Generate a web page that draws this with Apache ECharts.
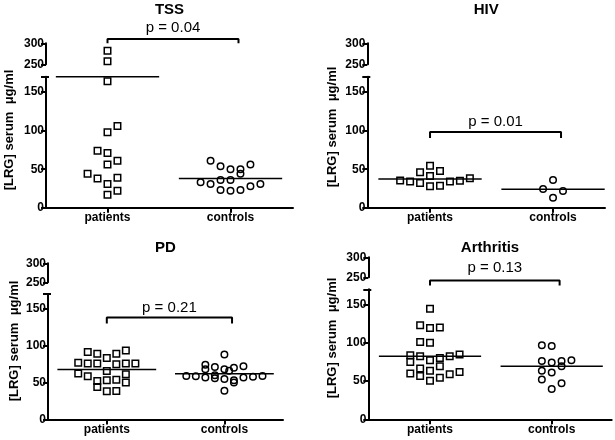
<!DOCTYPE html>
<html>
<head>
<meta charset="utf-8">
<script src="https://cdn.jsdelivr.net/npm/echarts@6/dist/echarts.min.js"></script>
<style>html,body{margin:0;padding:0;background:#fff}#c{width:615px;height:440px}</style>
</head>
<body>
<div id="c"></div>
<script>
// ---------- data ----------
const categories = ['patients', 'controls'];
const lowerTicks = [0, 50, 100, 150];
const upperTicks = [250, 300];
const breakLow = 170;

const tssPatients = [282, 257, 164, 106, 98, 74, 71, 61, 56, 44, 38, 39, 31, 22, 17];
const tssPatientsSlot = [0, 0, 0, 1, 0, -1, 0, 1, 0, -2, -1, 1, 0, 1, 0];
const tssControls = [61, 54, 50, 50, 56, 44, 33, 31, 36, 36, 23, 22, 23, 28, 31];
const tssControlsSlot = [-2, -1, 0, 1, 2, 1, -3, -2, -1, 0, -1, 0, 1, 2, 3];
const tssMedians = [170, 38];
const tssP = 'p = 0.04';

const hivPatients = [35.5, 34.2, 32, 54.5, 46, 47.6, 41.3, 27.8, 28.5, 34.2, 35, 38.3];
const hivPatientsSlot = [-3, -2, -1, 0, -1, 1, 0, 0, 1, 2, 3, 4];
const hivControls = [36, 24.4, 21.8, 13];
const hivControlsSlot = [0, -1, 1, 0];
const hivMedians = [37.5, 24];
const hivP = 'p = 0.01';

const pdPatients = [91.4, 89.2, 83.3, 89.2, 93.6, 77, 75.7, 75.7, 74.7, 75.7, 75.7, 65.7, 62.2, 58.5, 61.2, 52.2, 53.1, 54, 50, 44, 38.2, 38.6];
const pdPatientsSlot = [-2, -1, 0, 1, 2, -3, -2, -1, 1, 2, 3, 0, -3, -2, 2, -1, 0, 1, 2, -1, 0, 1];
const pdControls = [88, 74, 71, 68, 70, 72, 68, 66, 59, 58.5, 57, 60, 56, 55, 53, 50, 57, 58, 59, 39];
const pdControlsSlot = [0, -2, -1, 0, 1, 2, -2, 0.5, -4, -3, -2, -1, -1, 0, 1, 1, 2, 3, 4, 0];
const pdMedians = [67.6, 62];
const pdP = 'p = 0.21';

const arPatients = [144.7, 123, 119.5, 120, 101, 100, 83.8, 82.5, 80.3, 82.5, 84.7, 75, 77.3, 69.5, 66.5, 60, 56.5, 63.4, 54.3, 59, 62, 50.4];
const arPatientsSlot = [0, -1, 0, 1, -1, 0, -2, -1, 1, 2, 3, -2, 0, 1, -1, -2, -1, 0, 1, 2, 3, 0];
const arControls = [96.9, 96, 76.4, 74.3, 76.4, 77.3, 69.5, 63.4, 61.3, 52.2, 47, 39.5];
const arControlsSlot = [-1, 0, -1, 0, 1, 2, 1, -1, 0, -1, 1, 0];
const arMedians = [82.5, 69.5];
const arP = 'p = 0.13';

// ---------- layout ----------
const panels = [
  { title: 'TSS', pat: tssPatients, patSlot: tssPatientsSlot, ctl: tssControls, ctlSlot: tssControlsSlot, med: tssMedians, p: tssP,
    left: 46, lowTop: 76.7, lowBottom: 207.8, upTop: 43.3, upBottom: 64.3, width: 247, min: 0.5, u: 123,
    titleY: 10, ytX: 9, ytY: 130, bracket: { grid: 'up', yTop: 310, yTick: 300.3 }, pY: 28 },
  { title: 'HIV', pat: hivPatients, patSlot: hivPatientsSlot, ctl: hivControls, ctlSlot: hivControlsSlot, med: hivMedians, p: hivP,
    left: 367.3, lowTop: 76.7, lowBottom: 207.8, upTop: 43.3, upBottom: 64.3, width: 237.7, min: 0.49, u: 123,
    titleY: 10, ytX: 332, ytY: 127, bracket: { grid: 'low', yTop: 98.4, yTick: 90.6 }, pY: 122 },
  { title: 'PD', pat: pdPatients, patSlot: pdPatientsSlot, ctl: pdControls, ctlSlot: pdControlsSlot, med: pdMedians, p: pdP,
    left: 48, lowTop: 294, lowBottom: 419.5, upTop: 263.3, upBottom: 282.3, width: 235, min: 0.5, u: 117.6,
    titleY: 248, ytX: 14, ytY: 341, bracket: { grid: 'low', yTop: 138, yTick: 130 }, pY: 308 },
  { title: 'Arthritis', pat: arPatients, patSlot: arPatientsSlot, ctl: arControls, ctlSlot: arControlsSlot, med: arMedians, p: arP,
    left: 368.3, lowTop: 289.3, lowBottom: 419.3, upTop: 257.3, upBottom: 277.3, width: 243.4, min: 0.493, u: 121.7,
    titleY: 248, ytX: 332, ytY: 338, bracket: { grid: 'low', yTop: 181.6, yTick: 175 }, pY: 268 }
];

const slotW = 0.081;
const halfW = 0.42;
const bracketExt = 0.065;
const FONT = 'Liberation Sans, Arial, sans-serif';

const grid = [], xAxis = [], yAxis = [], series = [], graphic = [], capAxes = [];

panels.forEach((P, i) => {
  const max = P.min + P.width / P.u;
  const lo = 2 * i, up = 2 * i + 1;
  grid.push({ left: P.left, top: P.lowTop, width: P.width, height: P.lowBottom - P.lowTop });
  grid.push({ left: P.left, top: P.upTop, width: P.width, height: P.upBottom - P.upTop });
  xAxis.push({
    gridIndex: lo, type: 'value', min: P.min, max: max,
    axisLine: { show: true, onZero: false, lineStyle: { color: '#000', width: 2 } },
    axisTick: { show: true, customValues: [1, 2], length: 5, lineStyle: { color: '#000', width: 2 } },
    axisLabel: { show: true, customValues: [1, 2], formatter: v => categories[Math.round(v) - 1], color: '#000',
      fontFamily: FONT, fontWeight: 'bold', fontSize: 12, margin: 4 },
    splitLine: { show: false }
  });
  xAxis.push({ gridIndex: up, type: 'value', min: P.min, max: max, show: false, splitLine: { show: false } });
  const yCommon = {
    type: 'value',
    axisLine: { show: true, onZero: false, lineStyle: { color: '#000', width: 2 } },
    axisLabel: { color: '#000', fontFamily: FONT, fontWeight: 'bold', fontSize: 12, margin: 2 },
    splitLine: { show: false }
  };
  yAxis.push(Object.assign({}, yCommon, {
    gridIndex: lo, min: 0, max: breakLow,
    axisTick: { show: true, customValues: lowerTicks.concat([breakLow]), length: 5, lineStyle: { color: '#000', width: 2 } },
    axisLabel: Object.assign({}, yCommon.axisLabel, { customValues: lowerTicks })
  }));
  yAxis.push(Object.assign({}, yCommon, {
    gridIndex: up, min: upperTicks[0], max: upperTicks[1],
    axisTick: { show: true, customValues: upperTicks, length: 5, lineStyle: { color: '#000', width: 2 } },
    axisLabel: Object.assign({}, yCommon.axisLabel, { customValues: upperTicks })
  }));
  // cap on top of the lower axis segment (inner half)
  capAxes.push({
    gridIndex: lo, type: 'value', min: 0, max: breakLow, position: 'left',
    axisLine: { show: false }, axisLabel: { show: false }, splitLine: { show: false },
    axisTick: { show: true, inside: true, customValues: [breakLow], length: 3, lineStyle: { color: '#000', width: 2 } }
  });

  const groups = [
    { vals: P.pat, slots: P.patSlot, c: 1, sym: 'rect' },
    { vals: P.ctl, slots: P.ctlSlot, c: 2, sym: 'circle' }
  ];
  groups.forEach(g => {
    const low = [], high = [];
    g.vals.forEach((v, k) => {
      const pt = [g.c + g.slots[k] * slotW, v];
      (v > breakLow ? high : low).push(pt);
    });
    const st = {
      type: 'scatter', symbol: g.sym, symbolSize: 6.5,
      itemStyle: { color: 'rgba(255,255,255,0)', borderColor: '#000', borderWidth: 1.5, opacity: 1 },
      emphasis: { disabled: true }, z: 3
    };
    series.push(Object.assign({}, st, { xAxisIndex: lo, yAxisIndex: lo, data: low }));
    if (high.length) series.push(Object.assign({}, st, { xAxisIndex: up, yAxisIndex: up, data: high }));
  });
  P.med.forEach((m, k) => {
    const c = k + 1;
    series.push({
      type: 'line', xAxisIndex: lo, yAxisIndex: lo, symbol: 'none', silent: true, clip: false,
      lineStyle: { color: '#000', width: 1.5 }, data: [[c - halfW, m], [c + halfW, m]], z: 2
    });
  });
  const b = P.bracket;
  const bi = b.grid === 'up' ? up : lo;
  series.push({
    type: 'line', xAxisIndex: bi, yAxisIndex: bi, symbol: 'none', silent: true, clip: false,
    lineStyle: { color: '#000', width: 2 },
    data: [[1, b.yTick], [1, b.yTop], [2 + bracketExt, b.yTop], [2 + bracketExt, b.yTick]]
  });

  const cx = P.left + P.width / 2;
  graphic.push({ type: 'text', x: cx, y: P.titleY, style: { text: P.title, font: 'bold 15px ' + FONT, fill: '#000', align: 'center', verticalAlign: 'middle' } });
  const px = P.left + (1 - P.min) * P.u + ((1 + bracketExt) * P.u) / 2;
  graphic.push({ type: 'text', x: px, y: P.pY, style: { text: P.p, font: '15px ' + FONT, fill: '#000', align: 'center', verticalAlign: 'middle' } });
  graphic.push({ type: 'text', x: P.ytX, y: P.ytY, rotation: Math.PI / 2, style: { text: '[LRG] serum  μg/ml', font: 'bold 13px ' + FONT, fill: '#000', align: 'center', verticalAlign: 'middle' } });
});

const chart = echarts.init(document.getElementById('c'), null, { renderer: 'canvas' });
chart.setOption({ animation: false, backgroundColor: '#fff', grid, xAxis, yAxis: yAxis.concat(capAxes), series, graphic });
</script>
</body>
</html>
